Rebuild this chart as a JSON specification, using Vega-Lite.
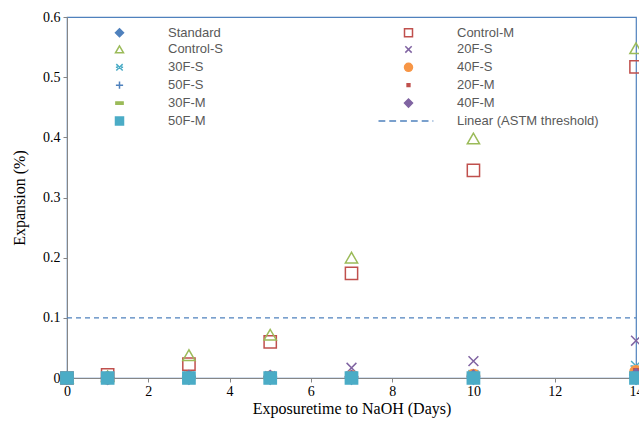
{
  "$schema": "https://vega.github.io/schema/vega-lite/v6.json",
  "width": 569,
  "height": 361,
  "autosize": {"type": "none"},
  "padding": {"left": 67, "top": 17, "right": 3, "bottom": 50},
  "background": "white",
  "config": {
    "view": {"stroke": "#4F81BD", "strokeWidth": 1.2},
    "axis": {
      "labelFont": "Liberation Serif",
      "labelFontSize": 14,
      "labelColor": "#000000",
      "titleFont": "Liberation Serif",
      "titleFontSize": 16,
      "titleFontWeight": "normal",
      "titleColor": "#000000",
      "domainColor": "#868686",
      "tickColor": "#868686",
      "tickSize": 4,
      "grid": false,
      "zindex": 1
    }
  },
  "datasets": {
    "pts": [
      {"series": "Standard", "day": 0, "exp": 0}, {"series": "Standard", "day": 1, "exp": 0}, {"series": "Standard", "day": 3, "exp": 0}, {"series": "Standard", "day": 5, "exp": 0}, {"series": "Standard", "day": 7, "exp": 0}, {"series": "Standard", "day": 10, "exp": 0}, {"series": "Standard", "day": 14, "exp": 0},
      {"series": "Control-M", "day": 0, "exp": 0}, {"series": "Control-M", "day": 1, "exp": 0.005}, {"series": "Control-M", "day": 3, "exp": 0.023}, {"series": "Control-M", "day": 5, "exp": 0.06}, {"series": "Control-M", "day": 7, "exp": 0.174}, {"series": "Control-M", "day": 10, "exp": 0.345}, {"series": "Control-M", "day": 14, "exp": 0.517},
      {"series": "Control-S", "day": 0, "exp": 0}, {"series": "Control-S", "day": 1, "exp": 0.003}, {"series": "Control-S", "day": 3, "exp": 0.038}, {"series": "Control-S", "day": 5, "exp": 0.072}, {"series": "Control-S", "day": 7, "exp": 0.2}, {"series": "Control-S", "day": 10, "exp": 0.398}, {"series": "Control-S", "day": 14, "exp": 0.548},
      {"series": "20F-S", "day": 0, "exp": 0}, {"series": "20F-S", "day": 1, "exp": 0}, {"series": "20F-S", "day": 3, "exp": 0.002}, {"series": "20F-S", "day": 5, "exp": 0.003}, {"series": "20F-S", "day": 7, "exp": 0.017}, {"series": "20F-S", "day": 10, "exp": 0.028}, {"series": "20F-S", "day": 14, "exp": 0.062},
      {"series": "30F-S", "day": 0, "exp": 0}, {"series": "30F-S", "day": 1, "exp": 0}, {"series": "30F-S", "day": 3, "exp": 0}, {"series": "30F-S", "day": 5, "exp": 0.002}, {"series": "30F-S", "day": 7, "exp": 0.003}, {"series": "30F-S", "day": 10, "exp": 0.005}, {"series": "30F-S", "day": 14, "exp": 0.02},
      {"series": "40F-S", "day": 0, "exp": 0}, {"series": "40F-S", "day": 1, "exp": 0}, {"series": "40F-S", "day": 3, "exp": 0.001}, {"series": "40F-S", "day": 5, "exp": 0.001}, {"series": "40F-S", "day": 7, "exp": 0.002}, {"series": "40F-S", "day": 10, "exp": 0.004}, {"series": "40F-S", "day": 14, "exp": 0.01},
      {"series": "50F-S", "day": 0, "exp": 0}, {"series": "50F-S", "day": 1, "exp": 0}, {"series": "50F-S", "day": 3, "exp": 0}, {"series": "50F-S", "day": 5, "exp": 0}, {"series": "50F-S", "day": 7, "exp": 0.001}, {"series": "50F-S", "day": 10, "exp": 0.002}, {"series": "50F-S", "day": 14, "exp": 0.005},
      {"series": "20F-M", "day": 0, "exp": 0}, {"series": "20F-M", "day": 1, "exp": 0.002}, {"series": "20F-M", "day": 3, "exp": 0.002}, {"series": "20F-M", "day": 5, "exp": 0.002}, {"series": "20F-M", "day": 7, "exp": 0.003}, {"series": "20F-M", "day": 10, "exp": 0.004}, {"series": "20F-M", "day": 14, "exp": 0.012},
      {"series": "30F-M", "day": 0, "exp": 0}, {"series": "30F-M", "day": 1, "exp": 0}, {"series": "30F-M", "day": 3, "exp": 0}, {"series": "30F-M", "day": 5, "exp": 0}, {"series": "30F-M", "day": 7, "exp": 0.001}, {"series": "30F-M", "day": 10, "exp": 0.002}, {"series": "30F-M", "day": 14, "exp": 0.004},
      {"series": "40F-M", "day": 0, "exp": 0}, {"series": "40F-M", "day": 1, "exp": 0}, {"series": "40F-M", "day": 3, "exp": 0.002}, {"series": "40F-M", "day": 5, "exp": 0.002}, {"series": "40F-M", "day": 7, "exp": 0.002}, {"series": "40F-M", "day": 10, "exp": 0.003}, {"series": "40F-M", "day": 14, "exp": 0.005},
      {"series": "50F-M", "day": 0, "exp": 0}, {"series": "50F-M", "day": 1, "exp": 0}, {"series": "50F-M", "day": 3, "exp": 0}, {"series": "50F-M", "day": 5, "exp": 0}, {"series": "50F-M", "day": 7, "exp": 0}, {"series": "50F-M", "day": 10, "exp": 0}, {"series": "50F-M", "day": 14, "exp": 0}
    ],
    "thr": [
      {"day": 0, "exp": 0.1}, {"day": 14, "exp": 0.1}
    ]
  },
  "layer": [
    {
      "data": {"name": "thr"},
      "mark": {"type": "line", "stroke": "#4F81BD", "strokeWidth": 1.2, "strokeDash": [5, 4], "clip": false},
      "encoding": {
        "x": {"field": "day", "type": "quantitative"},
        "y": {"field": "exp", "type": "quantitative"}
      }
    },
    {
      "data": {"name": "pts"},
      "mark": {"type": "point", "size": 150, "strokeWidth": 1.5, "opacity": 1, "clip": false},
      "encoding": {
        "x": {
          "field": "day", "type": "quantitative",
          "scale": {"domain": [0, 14], "nice": false, "zero": false},
          "axis": {"values": [0, 2, 4, 6, 8, 10, 12, 14], "title": "Exposuretime to NaOH (Days)", "labelPadding": 2, "titlePadding": 2, "labelFlush": false}
        },
        "y": {
          "field": "exp", "type": "quantitative",
          "scale": {"domain": [0, 0.6], "nice": false},
          "axis": {"values": [0, 0.1, 0.2, 0.3, 0.4, 0.5, 0.6], "format": "~g", "title": "Expansion (%)", "labelPadding": 3, "titlePadding": 15}
        },
        "shape": {
          "field": "series", "type": "nominal",
          "scale": {
            "domain": ["Standard", "Control-S", "30F-S", "50F-S", "30F-M", "50F-M", "Control-M", "20F-S", "40F-S", "20F-M", "40F-M", "Linear (ASTM threshold)"],
            "range": ["diamond", "triangle-up", "M-0.8,-0.8L0.8,0.8M-0.8,0.8L0.8,-0.8M-0.9,0H-0.4M0.4,0H0.9", "M-0.9,0H0.9M0,-0.9V0.9", "M-0.9,-0.3H0.9V0.3H-0.9Z", "square", "square", "M-0.8,-0.8L0.8,0.8M-0.8,0.8L0.8,-0.8", "circle", "M-0.35,-0.35H0.35V0.35H-0.35Z", "diamond", "M-7.5,0H-5.8M-4.8,0H-3.1M-2.1,0H-0.4M0.6,0H2.3M3.3,0H5M6,0H6.2"]
          },
          "legend": {
            "title": null,
            "orient": "none",
            "legendX": 46,
            "legendY": 9,
            "columns": 2,
            "columnPadding": 152,
            "rowPadding": 2.9,
            "padding": 0,
            "symbolSize": 64,
            "symbolStrokeWidth": 1.5,
            "labelFont": "Liberation Sans",
            "labelFontSize": 13,
            "labelColor": "#595959",
            "labelOffset": 42,
            "encode": {
              "labels": {"update": {"dx": {"signal": "datum.index >= 6 ? -18 : 0"}}}
            }
          }
        },
        "stroke": {
          "field": "series", "type": "nominal",
          "scale": {
            "domain": ["Standard", "Control-S", "30F-S", "50F-S", "30F-M", "50F-M", "Control-M", "20F-S", "40F-S", "20F-M", "40F-M", "Linear (ASTM threshold)"],
            "range": ["#4F81BD", "#9BBB59", "#4BACC6", "#4F81BD", "#9BBB59", "#4BACC6", "#C0504D", "#8064A2", "#F79646", "#C0504D", "#8064A2", "#4F81BD"]
          }
        },
        "fill": {
          "field": "series", "type": "nominal",
          "scale": {
            "domain": ["Standard", "Control-S", "30F-S", "50F-S", "30F-M", "50F-M", "Control-M", "20F-S", "40F-S", "20F-M", "40F-M", "Linear (ASTM threshold)"],
            "range": ["#4F81BD", "transparent", "transparent", "transparent", "#9BBB59", "#4BACC6", "transparent", "transparent", "#F79646", "#C0504D", "#8064A2", "transparent"]
          }
        }
      }
    }
  ]
}
